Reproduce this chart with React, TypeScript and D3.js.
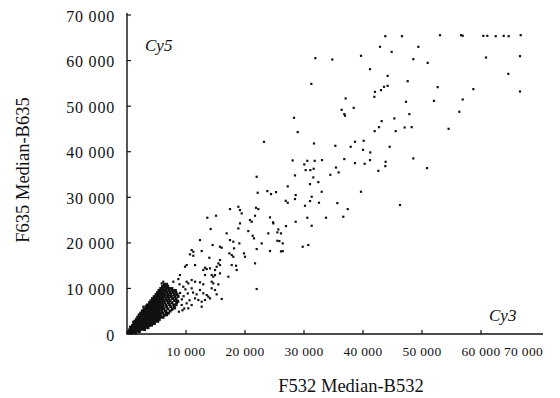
import React from "react";
import * as d3 from "d3";

// tick values on both axes
const xTicks = [10000, 20000, 30000, 40000, 50000, 60000, 70000];
const yTicks = [0, 10000, 20000, 30000, 40000, 50000, 60000, 70000];

// spots above ~30 000 (F532 Median-B532, F635 Median-B635)
const upperSpots: [number, number][] = [
  [43780, 65350], [46610, 65350], [53050, 65570], [56610, 65570], [56900, 65450],
  [60390, 65420], [61070, 65420], [62490, 65350], [63850, 65420], [64690, 65350],
  [66730, 65570], [42880, 63020], [44860, 61910], [49380, 63020], [31920, 60530],
  [34800, 60230], [39660, 61040], [48530, 60310], [50960, 59500], [60850, 60670],
  [66610, 60960], [41190, 58110], [44180, 56650], [47570, 55480], [64630, 57080],
  [31240, 54890], [43560, 54240], [44180, 54460], [43050, 53510], [42030, 53140],
  [41920, 52040], [52660, 54170], [58700, 53730], [66610, 53220], [37060, 51680],
  [47290, 50950], [52030, 51170], [56900, 51460], [36380, 49190], [38420, 49630],
  [36830, 48250], [36950, 47900], [56330, 48760], [28310, 47440], [47860, 48250],
  [45310, 47300], [43160, 46710], [42710, 45390], [41980, 44520], [45540, 44520],
  [47060, 45320], [48250, 45390], [54510, 45030], [28930, 44300], [31690, 41810],
  [35310, 41300], [37910, 41080], [38640, 42180], [40110, 42400], [40000, 40420],
  [41240, 39840], [44520, 41080], [48530, 38530], [50850, 36400], [28080, 38090],
  [30050, 37210], [30560, 38000], [31810, 38000], [33050, 38160], [30280, 35960],
  [31070, 35960], [31640, 36260], [36830, 38380], [38640, 37500], [40280, 37350],
  [41190, 38160], [43840, 37790], [43780, 36840], [42600, 35810], [35420, 36530],
  [35870, 35450], [34460, 34940], [28470, 34800], [31580, 34360], [23220, 42170],
  [21980, 34500], [22150, 30990], [23780, 31360], [27240, 32390], [31020, 32890],
  [32430, 33330], [25260, 31140], [24410, 30700], [33000, 31210], [39660, 31210],
];

// spots between ~5 000 and ~30 000
const middleSpots: [number, number][] = [
  [28590, 30480], [31300, 30120], [26900, 29230], [27240, 28800], [28470, 29610],
  [31020, 29170], [32540, 28800], [30170, 28140], [35650, 28730], [37410, 27410],
  [24240, 25590], [24750, 24500], [24800, 24270], [26950, 23680], [28590, 24630],
  [30560, 25510], [31300, 23750], [33730, 25510], [36660, 25730], [25650, 22950],
  [25480, 22300], [26100, 22080], [25480, 20460], [25820, 20390], [26390, 19880],
  [30730, 19520], [29780, 19150], [26100, 18130], [26390, 18200], [46270, 28290],
  [17460, 27410], [18870, 27920], [19150, 27190], [19440, 26470], [21870, 27700],
  [22260, 27410], [21700, 25950], [13610, 25510], [15090, 25950], [20850, 25000],
  [21140, 24630], [19150, 24270], [18870, 23170], [20560, 22590], [14180, 23030],
  [16890, 22080], [23950, 22080], [21300, 21560], [21530, 20990], [17460, 20610],
  [18020, 20250], [19040, 19880], [12370, 20610], [22830, 19880], [15760, 19150],
  [16050, 18930], [14520, 19520], [18140, 18790], [21980, 18640], [24240, 18200],
  [10960, 18420], [11240, 18050], [10680, 17480], [11240, 17170], [12660, 18200],
  [17350, 17690], [17750, 17320], [18020, 16950], [19830, 17690], [20000, 16950],
  [13950, 16730], [15760, 16230], [15480, 15500], [15760, 15130], [11530, 15130],
  [10110, 15130], [9830, 14760], [13220, 14550], [13510, 14250], [14070, 14400],
  [12930, 14040], [15200, 14760], [14920, 14040], [17750, 15130], [18480, 14980],
  [18590, 14040], [21700, 15500], [14350, 12940], [14630, 12570], [14920, 12940],
  [13220, 12940], [15760, 13310], [17180, 12570], [8980, 12940], [10960, 11840],
  [11530, 11470], [10390, 11110], [12370, 11330], [12930, 10900], [14350, 11470],
  [14630, 11110], [15480, 10900], [14350, 10020], [14920, 9650], [21980, 9870],
  [12930, 8930], [13510, 8550], [15200, 8700], [16050, 7680], [13780, 8190],
  [14070, 7820], [13220, 7460], [12660, 5990], [8700, 12060], [7850, 11470],
  [8140, 5640], [7570, 5260], [8700, 7080], [5880, 11110], [6160, 11470],
  [6730, 10370], [7290, 10020], [4750, 8180], [4190, 7080], [2770, 5990],
  [3340, 6360], [1070, 2700], [510, 1600], [10110, 11470], [9540, 10370],
  [10960, 10020], [12370, 9650], [11530, 7830], [12090, 7460], [12660, 7080],
  [10110, 6730], [9270, 6360], [10960, 6360], [10390, 5640],
  [9000, 9000], [9600, 8300], [10300, 8900], [9300, 7600], [8900, 10900],
  [9900, 9800], [10600, 7400], [11200, 9100], [9700, 5600], [11800, 8700],
  [8800, 4900], [9400, 5200],
];

// the dense clump of low-intensity spots
const clusterSpots: [number, number][] = [
  [120, 180], [430, 260], [790, 150], [1120, 310], [1480, 210], [260, 420],
  [310, 640], [660, 560], [1010, 690], [1340, 580], [1720, 650], [2080, 520],
  [480, 1020], [870, 950], [1220, 1080], [1570, 990], [1930, 1040], [2260, 930], [2640, 1060], [2980, 980],
  [690, 1420], [1060, 1500], [1420, 1430], [1770, 1480], [2120, 1400], [2460, 1520], [2810, 1440], [3170, 1470], [3560, 1390],
  [930, 1880], [1290, 1950], [1660, 1870], [2010, 1930], [2360, 1890], [2720, 1960], [3060, 1870], [3420, 1920], [3790, 1860], [4160, 1940],
  [1140, 2330], [1510, 2390], [1860, 2310], [2210, 2380], [2560, 2340], [2920, 2400], [3260, 2320], [3610, 2370], [3970, 2330], [4310, 2390], [4660, 2310],
  [1360, 2820], [1710, 2770], [2060, 2850], [2410, 2790], [2760, 2830], [3110, 2780], [3460, 2840], [3810, 2790], [4170, 2820], [4520, 2770], [4890, 2850], [5230, 2790],
  [1590, 3230], [1940, 3290], [2310, 3220], [2660, 3270], [3010, 3240], [3360, 3280], [3720, 3230], [4060, 3270], [4410, 3220], [4770, 3290], [5120, 3240], [5490, 3210],
  [1810, 3680], [2160, 3730], [2510, 3690], [2860, 3740], [3210, 3670], [3570, 3720], [3910, 3690], [4260, 3740], [4610, 3680], [4960, 3720], [5360, 3690], [5790, 3740], [6120, 3660],
  [2040, 4170], [2390, 4120], [2740, 4180], [3110, 4130], [3460, 4160], [3810, 4110], [4160, 4180], [4510, 4140], [4860, 4170], [5210, 4120], [5660, 4180], [6310, 4130], [6720, 4210],
  [2310, 4580], [2660, 4630], [3010, 4590], [3360, 4640], [3710, 4570], [4060, 4620], [4410, 4600], [4760, 4640], [5110, 4580], [5510, 4630], [6020, 4590], [6610, 4650], [7020, 4570],
  [2590, 5070], [2940, 5020], [3310, 5080], [3660, 5030], [4010, 5060], [4360, 5010], [4710, 5070], [5060, 5040], [5420, 5080], [5930, 5010], [6520, 5060], [7310, 5030],
  [2890, 5480], [3240, 5530], [3610, 5470], [3960, 5520], [4310, 5490], [4660, 5540], [5010, 5480], [5360, 5520], [5820, 5470], [6230, 5540], [6920, 5490], [7710, 5520],
  [3210, 5970], [3560, 5920], [3910, 5980], [4260, 5930], [4610, 5960], [4960, 5910], [5310, 5980], [5720, 5940], [6130, 5970], [6720, 5920], [7420, 5980], [8010, 5940],
  [3490, 6380], [3840, 6430], [4210, 6370], [4560, 6420], [4910, 6390], [5260, 6440], [5610, 6380], [6060, 6420], [6620, 6370], [7210, 6430], [7920, 6390], [8320, 6420],
  [3810, 6870], [4160, 6820], [4510, 6880], [4860, 6830], [5210, 6860], [5570, 6810], [5960, 6870], [6420, 6840], [7020, 6880], [7620, 6820], [8410, 6860],
  [4040, 7280], [4410, 7330], [4760, 7270], [5110, 7320], [5460, 7290], [5860, 7340], [6310, 7280], [6820, 7320], [7320, 7270], [8020, 7330], [8510, 7290],
  [4310, 7770], [4660, 7720], [5010, 7780], [5360, 7730], [5720, 7760], [6110, 7710], [6620, 7780], [7110, 7740], [7720, 7770], [8310, 7720],
  [4590, 8180], [4960, 8230], [5310, 8170], [5660, 8220], [6060, 8190], [6510, 8240], [7010, 8180], [7520, 8220], [8110, 8170], [8660, 8230],
  [4910, 8670], [5260, 8620], [5610, 8680], [6010, 8630], [6460, 8660], [6960, 8610], [7410, 8680], [8020, 8640], [8510, 8670],
  [5160, 9080], [5510, 9130], [5910, 9070], [6310, 9120], [6810, 9090], [7310, 9140], [7820, 9080], [8310, 9120],
  [5410, 9570], [5810, 9520], [6210, 9580], [6660, 9530], [7160, 9560], [7710, 9510], [8210, 9570],
  [5710, 9980], [6110, 10030], [6560, 9970], [7010, 10020], [7610, 9990],
  [6010, 10470], [6410, 10420], [6910, 10480],
  [6310, 10880], [6720, 10930],
];

const serif = "'Liberation Serif', 'Times New Roman', serif";

export default function App() {
  const width = 560;
  const height = 398;

  const x = d3.scaleLinear().domain([0, 70000]).range([127, 540]);
  const y = d3.scaleLinear().domain([0, 70000]).range([334, 15]);
  const fmt = (v: number) => d3.format(",")(v).replace(",", " ");

  const spots = [...middleSpots, ...upperSpots];
  const dot = 2.2;
  const clumpDot = 2.9; // overlapping spots in the clump merge into a solid patch

  const txt = { fontFamily: serif, fill: "#111" } as React.CSSProperties;

  return (
    <svg
      width={width}
      height={height}
      style={{ position: "absolute", left: 0, top: 0, background: "#fff" }}
    >
      {/* axes */}
      <line x1={x(0)} x2={x(0)} y1={y(0)} y2={y(70000) - 2} stroke="#111" strokeWidth={1.4} />
      <line x1={x(0)} x2={x(70000) + 3} y1={y(0)} y2={y(0)} stroke="#111" strokeWidth={1.4} />

      {yTicks.map((t) => (
        <g key={"y" + t}>
          {t > 0 && <line x1={x(0)} x2={x(0) + 4} y1={y(t)} y2={y(t)} stroke="#111" strokeWidth={1.2} />}
          <text
            x={115}
            y={y(t) + 1}
            textAnchor="end"
            dominantBaseline="central"
            style={{ ...txt, fontSize: 16, letterSpacing: 0.8 }}
          >
            {fmt(t)}
          </text>
        </g>
      ))}

      {xTicks.map((t, i) => {
        const last = i === xTicks.length - 1;
        return (
          <g key={"x" + t}>
            {!last && <line x1={x(t)} x2={x(t)} y1={y(0)} y2={y(0) - 4} stroke="#111" strokeWidth={1.2} />}
            <text
              x={last ? x(t) + 3 : x(t)}
              y={356}
              textAnchor={last ? "end" : "middle"}
              style={{ ...txt, fontSize: 13.5, letterSpacing: 0.3 }}
            >
              {fmt(t)}
            </text>
          </g>
        );
      })}

      {/* spots */}
      {clusterSpots.map((d, i) => (
        <rect
          key={"c" + i}
          x={x(d[0]) - clumpDot / 2}
          y={y(d[1]) - clumpDot / 2}
          width={clumpDot}
          height={clumpDot}
          fill="#111"
        />
      ))}
      {spots.map((d, i) => (
        <rect
          key={i}
          x={x(d[0]) - dot / 2}
          y={y(d[1]) - dot / 2}
          width={dot}
          height={dot}
          fill="#111"
        />
      ))}

      {/* channel labels */}
      <text x={145} y={51} style={{ ...txt, fontStyle: "italic", fontSize: 17 }}>
        Cy5
      </text>
      <text x={489} y={321} style={{ ...txt, fontStyle: "italic", fontSize: 17 }}>
        Cy3
      </text>

      {/* axis titles */}
      <text x={351} y={392} textAnchor="middle" style={{ ...txt, fontSize: 18.5 }}>
        F532 Median-B532
      </text>
      <text
        transform="translate(23,170) rotate(-90)"
        textAnchor="middle"
        dominantBaseline="central"
        style={{ ...txt, fontSize: 18.5 }}
      >
        F635 Median-B635
      </text>
    </svg>
  );
}
